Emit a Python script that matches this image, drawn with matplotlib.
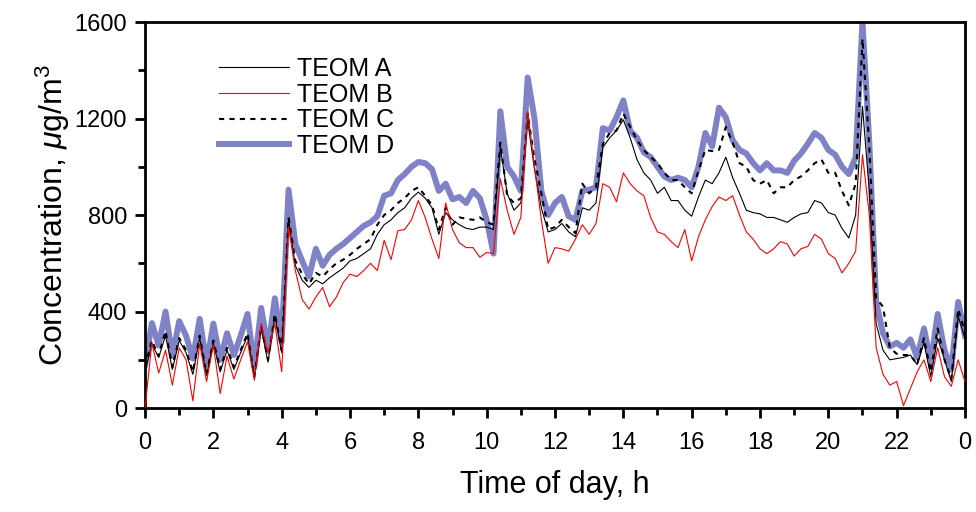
import numpy as np
import matplotlib
matplotlib.use("Agg")
import matplotlib.pyplot as plt
from matplotlib.ticker import MultipleLocator

plt.rcParams["font.family"] = ["Liberation Sans", "DejaVu Sans"]
plt.rcParams["mathtext.fontset"] = "custom"
plt.rcParams["mathtext.rm"] = "Liberation Sans"
plt.rcParams["mathtext.it"] = "Liberation Sans:italic"

# time of day, every 0.2 h from 0 to 24
hours = np.round(np.arange(0, 24.01, 0.2), 1)

# concentrations (ug/m3), one row per hour
teom_a = [
    150, 265, 210, 300, 160,
    280, 230, 140, 290, 135,
    270, 150, 240, 160, 230,
    300, 125, 330, 190, 380,
    230, 780, 590, 530, 500,
    530, 515, 540, 560, 580,
    610, 620, 640, 660, 720,
    760, 780, 810, 830, 870,
    895, 870, 830, 720, 810,
    780, 760, 745, 740, 750,
    750, 740, 1080, 890, 820,
    850, 1190, 990, 830, 730,
    740, 765, 730, 710, 830,
    820, 850, 1080, 1120, 1150,
    1195, 1120, 1030, 975, 945,
    890, 915, 860, 860, 820,
    795, 875, 945, 930, 975,
    1040, 955, 890, 820, 810,
    805, 790, 790, 780, 770,
    790, 805, 810, 860, 850,
    810, 800, 745, 705, 800,
    1250, 900, 350, 240, 200,
    205, 210, 220, 180, 270,
    130, 290, 200, 110, 380,
    290,
]
teom_b = [
    0, 270, 145, 240, 95,
    250, 200, 30, 265, 110,
    260, 60, 215, 120, 200,
    275, 115, 350, 225, 350,
    150, 750, 570, 450, 410,
    460, 500, 420, 460, 520,
    555, 545, 570, 600, 570,
    695, 615, 735, 740, 780,
    860, 790, 700, 620, 850,
    740, 685, 665, 665, 625,
    645, 640, 950, 820, 720,
    790, 1230, 1000, 780, 600,
    665, 660, 650, 700, 760,
    720, 765, 930, 915, 855,
    975, 930, 900, 880, 790,
    730, 720, 690, 665, 740,
    610, 710, 780, 835, 875,
    860, 880, 800, 730, 700,
    660, 640, 660, 690, 680,
    630, 660, 670, 720, 700,
    640, 620, 560, 600, 650,
    1050, 800, 250, 140, 95,
    110, 10, 80, 150, 200,
    110, 250, 130, 90, 200,
    110,
]
teom_c = [
    170, 280, 215, 320, 170,
    290, 240, 150, 300, 140,
    280, 160, 250, 170, 240,
    310, 130, 340, 200, 390,
    240, 790, 610, 555, 515,
    560, 545, 575, 600, 615,
    635, 660, 680, 700, 760,
    800, 820, 850, 870, 900,
    915, 880, 840, 740, 830,
    760, 790, 785, 780, 790,
    770, 760, 1100, 880, 850,
    870, 1220, 1030, 890, 740,
    750, 780, 750, 725, 930,
    890, 915, 1095, 1140, 1150,
    1220, 1165, 1110, 1070, 1040,
    1015, 975, 945, 945, 915,
    890, 985, 1070, 1065, 1070,
    1165, 1100, 1015, 1000, 945,
    930, 945, 890, 915, 915,
    945, 960, 985, 1015, 1030,
    975, 975, 900, 840, 930,
    1530, 1080, 456, 420, 250,
    225, 220, 220, 180, 290,
    150, 330, 200, 120, 410,
    315,
]
teom_d = [
    180, 352, 260, 400, 215,
    360, 300, 205, 370, 180,
    350, 200, 310, 220, 300,
    390, 170, 415, 245, 455,
    275, 905, 680, 610, 545,
    660, 590, 635, 660, 680,
    705, 730, 755, 770, 795,
    880, 890, 945, 970, 1000,
    1020, 1015, 990, 900, 930,
    865, 875, 850, 900, 870,
    780, 640, 1230, 1000, 960,
    900, 1370, 1200, 900, 800,
    850, 875, 795, 780, 900,
    905, 915, 1160, 1150, 1205,
    1275, 1150, 1120, 1060, 1040,
    1000, 960, 945, 955, 945,
    915, 1000, 1140, 1085, 1245,
    1205, 1110, 1070, 1055, 1015,
    985, 1015, 985, 985, 975,
    1025, 1055, 1095, 1140, 1120,
    1070, 1050, 1000, 970, 1040,
    1600, 1100, 440, 310, 255,
    270, 250, 285, 210, 330,
    190, 390, 240, 160, 440,
    300,
]

x_ticks = list(range(0, 25, 2))
x_labels = ["0", "2", "4", "6", "8", "10", "12", "14", "16", "18", "20", "22", "0"]


def main():
    fig = plt.figure(figsize=(9.76, 5.12), dpi=100)
    ax = fig.add_axes([0.1486, 0.203, 0.8401, 0.754])

    ax.plot(hours, teom_d, color="#7f82c6", lw=4.3, label="TEOM D", zorder=1)
    ax.plot(hours, teom_c, color="black", lw=1.5, ls=(0, (2.5, 2.5)), label="TEOM C", zorder=2)
    ax.plot(hours, teom_a, color="black", lw=0.8, label="TEOM A", zorder=3)
    ax.plot(hours, teom_b, color="red", lw=0.8, label="TEOM B", zorder=4)

    ax.set_xlim(0, 24)
    ax.set_ylim(0, 1600)
    ax.set_xticks(x_ticks)
    ax.set_xticklabels(x_labels)
    ax.xaxis.set_minor_locator(MultipleLocator(1))
    ax.yaxis.set_major_locator(MultipleLocator(400))
    ax.yaxis.set_minor_locator(MultipleLocator(200))
    ax.tick_params(which="major", direction="out", length=7, width=2, labelsize=17, pad=6)
    ax.tick_params(which="minor", direction="out", length=5, width=2)
    ax.tick_params(axis="x", pad=10)
    for s in ax.spines.values():
        s.set_linewidth(2)

    ax.set_xlabel("Time of day, h", fontsize=22, labelpad=12)
    ax.set_ylabel(r"Concentration, $\mu$g/m$^3$", fontsize=23, labelpad=2)

    handles, labels = ax.get_legend_handles_labels()
    order = [2, 3, 1, 0]
    ax.legend([handles[i] for i in order], [labels[i] for i in order],
              loc="upper left", bbox_to_anchor=(0.09, 0.91), frameon=False,
              fontsize=18, handlelength=2.8, handletextpad=0.32,
              labelspacing=0.07, borderpad=0.0, borderaxespad=0.0)

    fig.savefig("out.png", dpi=100)


if __name__ == "__main__":
    main()
